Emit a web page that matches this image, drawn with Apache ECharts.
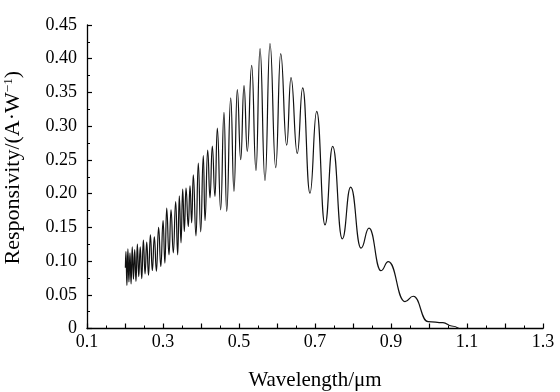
<!DOCTYPE html>
<html>
<head>
<meta charset="utf-8">
<script src="https://cdn.jsdelivr.net/npm/echarts@6/dist/echarts.min.js"></script>
<style>html,body{margin:0;padding:0;background:#fff;}#c{width:560px;height:392px;}</style>
</head>
<body>
<div id="c"></div>
<script>
// Wavelength (µm) of read-off extrema (peaks / valleys) of the responsivity curve
const wavelength = [
  0.2010, 0.2025, 0.2050, 0.2076, 0.2103, 0.2131, 0.2160, 0.2190, 0.2222, 0.2255,
  0.2289, 0.2325, 0.2362, 0.2401, 0.2441, 0.2483, 0.2527, 0.2572, 0.2619, 0.2668,
  0.2719, 0.2772, 0.2827, 0.2884, 0.2943, 0.3002, 0.3050,
  0.3097, 0.3158, 0.3211, 0.3271, 0.3334, 0.3387, 0.3429, 0.3474, 0.3518, 0.3561,
  0.3605, 0.3666, 0.3711, 0.3755, 0.3797, 0.3868, 0.3929, 0.3992, 0.4061, 0.4105,
  0.4176, 0.4237, 0.4297, 0.4368, 0.4429, 0.4518, 0.4605, 0.4676, 0.4782, 0.4868,
  0.4955, 0.5045, 0.5132, 0.5218, 0.5334, 0.5447, 0.5553, 0.5684, 0.5816, 0.5966,
  0.6097, 0.6255, 0.6368, 0.6534, 0.6676, 0.6868, 0.7045, 0.7263, 0.7466, 0.7718,
  0.7939, 0.8211, 0.8421, 0.8737, 0.8929, 0.9368, 0.9587, 0.9974, 1.0368, 1.0597,
  1.0789
];
// Responsivity (A·W^-1) at those points
const responsivity = [
  0.090, 0.114, 0.064, 0.118, 0.069, 0.112, 0.066, 0.121, 0.073, 0.117,
  0.070, 0.125, 0.077, 0.121, 0.074, 0.131, 0.081, 0.128, 0.079, 0.139,
  0.086, 0.136, 0.085, 0.150, 0.092, 0.160, 0.097,
  0.1785, 0.1092, 0.176, 0.1121, 0.1883, 0.1092, 0.1968, 0.127, 0.2067, 0.1438,
  0.2082, 0.1512, 0.2116, 0.1567, 0.228, 0.1374, 0.2454, 0.1433, 0.2562, 0.160,
  0.2644, 0.1938, 0.2703, 0.1958, 0.2973, 0.176, 0.3205, 0.1735, 0.3419, 0.2032,
  0.3542, 0.2503, 0.3602, 0.2626, 0.390, 0.2339, 0.415, 0.2195, 0.4226, 0.2384,
  0.4077, 0.2718, 0.372, 0.2596, 0.3568, 0.2005, 0.322, 0.1537, 0.270, 0.1329,
  0.2097, 0.1191, 0.1488, 0.0858, 0.0992, 0.0398, 0.0478, 0.0101, 0.0086, 0.0037,
  0.0
];
const xTickLabels = ['0.1', '0.3', '0.5', '0.7', '0.9', '1.1', '1.3'];
const yTickLabels = ['0', '0.05', '0.10', '0.15', '0.20', '0.25', '0.30', '0.35', '0.40', '0.45'];

const chart = echarts.init(document.getElementById('c'), null, {renderer: 'canvas'});
const font = 'Liberation Serif';
const axisCommon = {
  axisLine: {show: true, onZero: false, lineStyle: {color: '#000', width: 1.3}},
  axisTick: {show: true, inside: true, length: 5, lineStyle: {color: '#000', width: 1.2}},
  minorTick: {show: true, splitNumber: 2, length: 3, lineStyle: {color: '#000', width: 1}},
  splitLine: {show: false},
  minorSplitLine: {show: false}
};
chart.setOption({
  animation: false,
  backgroundColor: '#fff',
  grid: {left: 87, right: 17, top: 25, bottom: 63.5, containLabel: false, outerBoundsMode: 'none'},
  xAxis: Object.assign({
    type: 'value', min: 0.1, max: 1.3, interval: 0.1,
    name: 'Wavelength/μm', nameLocation: 'middle', nameGap: 41,
    nameTextStyle: {fontFamily: font, fontSize: 21, color: '#000'},
    axisLabel: {
      margin: 5, fontFamily: font, fontSize: 18, color: '#000',
      formatter: v => { const s = v.toFixed(1); return xTickLabels.includes(s) ? s : ''; }
    }
  }, axisCommon),
  yAxis: Object.assign({
    type: 'value', min: 0, max: 0.45, interval: 0.05,
    name: '{a|Responsivity/(A·W}{s|−1}{a|)}', nameLocation: 'middle', nameGap: 62,
    nameTextStyle: {
      fontFamily: font, fontSize: 22, color: '#000', padding: [0, 0, 0, 18],
      rich: {
        a: {fontFamily: font, fontSize: 22, color: '#000'},
        s: {fontFamily: font, fontSize: 13, color: '#000', padding: [0, 0, 10, 0]}
      }
    },
    axisLabel: {
      margin: 10, fontFamily: font, fontSize: 18, color: '#000',
      formatter: v => { const s = v === 0 ? '0' : v.toFixed(2); return yTickLabels.includes(s) ? s : ''; }
    }
  }, axisCommon),
  series: [{
    type: 'line',
    data: wavelength.map((w, i) => [w, responsivity[i]]),
    showSymbol: false,
    smooth: 0.5,
    smoothMonotone: 'x',
    lineStyle: {color: '#111', width: 1.2},
    silent: true
  }]
});
</script>
</body>
</html>
